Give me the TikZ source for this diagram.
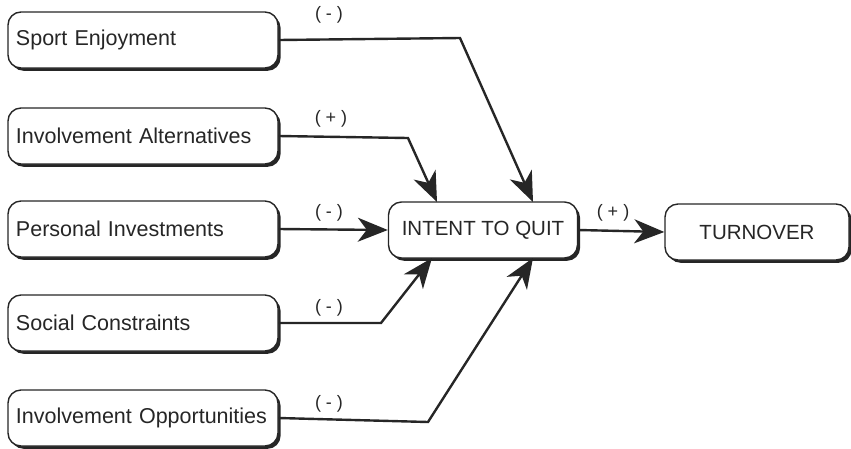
\documentclass[tikz,border=0pt]{standalone}
\usepackage{fontspec}
\setmainfont{Liberation Sans}
\usetikzlibrary{arrows.meta,shadows,calc}
\begin{document}
\begin{tikzpicture}[x=1pt,y=-1pt,
  box/.style={draw=black!85, line width=1.4pt, rounded corners=13pt, fill=white,
    minimum height=56pt, font=\fontsize{20.5}{24}\selectfont, text=black!85,
    drop shadow={shadow xshift=2.6pt, shadow yshift=-2.8pt, fill=black!85, opacity=1}},
  leftbox/.style={box, text width=254pt, inner xsep=8pt, align=left, font=\fontsize{21.5}{24}\selectfont},
  arr/.style={draw=black!85, line width=2.4pt, -{Stealth[length=30pt,width=24pt,inset=9pt]}},
  lbl/.style={font=\fontsize{18}{20}\selectfont, text=black!85}
]
\useasboundingbox (0,0) rectangle (851,448);
\node[leftbox] (se) at (143,40) {Sport Enjoyment};
\node[leftbox] (ia) at (143,136) {Involvement Alternatives};
\node[leftbox] (pi) at (143,229) {Personal Investments};
\node[leftbox] (sc) at (143,323) {Social Constraints};
\node[leftbox] (io) at (143,418) {Involvement Opportunities};
\node[box, minimum width=189pt] (iq) at (483,230) {INTENT TO QUIT};
\node[box, minimum width=184pt] (to) at (757,232) {TURNOVER};

\coordinate (b1) at (460,38);
\coordinate (b2) at (408,138);
\coordinate (b4) at (381,323);
\coordinate (b5) at (428,422);
\coordinate (t1) at (533,202);
\coordinate (t2) at (437,202);
\coordinate (t4) at (432,258);
\coordinate (t5) at (533,258);

\draw[arr] (se.east) -- (b1) -- (t1);
\draw[arr] (ia.east) -- (b2) -- (t2);
\draw[arr] (pi.east) -- (iq.west);
\draw[arr] (sc.east) -- (b4) -- (t4);
\draw[arr] (io.east) -- (b5) -- (t5);
\draw[arr] (iq.east) -- (to.west);

\node[lbl] (l1) at (329,15) {( - )};
\node[lbl] (l2) at (331,119) {( + )};
\node[lbl] (l3) at (329,213) {( - )};
\node[lbl] (l4) at (329,308) {( - )};
\node[lbl] (l5) at (329,404) {( - )};
\node[lbl] (l6) at (613,213) {( + )};
\end{tikzpicture}
\end{document}
